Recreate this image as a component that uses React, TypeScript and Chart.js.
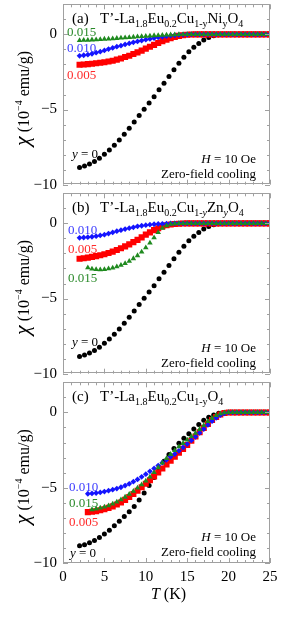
import React, { useEffect, useRef } from "react";
import { Chart, registerables } from "chart.js";

Chart.register(...registerables);

// ---------- data ----------
const X_MIN = 0;
const X_MAX = 25;
const Y_MIN = -10;
const Y_MAX = 2;
const X_TICKS = [0, 5, 10, 15, 20, 25];
const X_MINOR = [1, 2, 3, 4, 6, 7, 8, 9, 11, 12, 13, 14, 16, 17, 18, 19, 21, 22, 23, 24];
const Y_TICKS = [-10, -5, 0];
const Y_MINOR = [-9, -8, -7, -6, -4, -3, -2, -1, 1];

// temperatures (K)
const T_BLACK = [2.0, 2.6, 3.2, 3.8, 4.4, 5.0, 5.6, 6.2, 6.8, 7.4, 8.0, 8.6, 9.2, 9.8, 10.4, 11.0, 11.6, 12.2, 12.8, 13.4, 14.0, 14.6, 15.2, 15.8, 16.4, 17.0, 17.6, 18.2, 18.8, 19.4, 20.0, 20.6, 21.2, 21.8, 22.4, 23.0, 23.6, 24.2, 24.8];
const T_DOPED = [2, 2.5, 3, 3.5, 4, 4.5, 5, 5.5, 6, 6.5, 7, 7.5, 8, 8.5, 9, 9.5, 10, 10.5, 11, 11.5, 12, 12.5, 13, 13.5, 14, 14.5, 15, 15.5, 16, 16.5, 17, 17.5, 18, 18.5, 19, 19.5, 20, 20.5, 21, 21.5, 22, 22.5, 23, 23.5, 24, 24.5, 25];

// chi (10^-4 emu/g), y = 0
const Y0_AB = [-8.85, -8.75, -8.62, -8.45, -8.24, -7.98, -7.70, -7.38, -7.03, -6.65, -6.25, -5.83, -5.40, -4.98, -4.57, -4.15, -3.68, -3.25, -2.80, -2.36, -1.92, -1.52, -1.16, -0.86, -0.60, -0.38, -0.21, -0.09, -0.03, -0.01, 0, 0, 0, 0, 0, 0, 0, 0, 0];
const Y0_C = [-8.86, -8.78, -8.66, -8.50, -8.30, -8.07, -7.82, -7.52, -7.22, -6.92, -6.60, -6.25, -5.82, -5.35, -4.85, -4.32, -3.80, -3.25, -2.80, -2.40, -2.05, -1.72, -1.42, -1.10, -0.80, -0.52, -0.32, -0.17, -0.06, -0.01, 0, 0, 0, 0, 0, 0, 0, 0, 0];

// (a) Ni
const NI_005 = [-2.02, -2.00, -1.98, -1.95, -1.92, -1.89, -1.85, -1.80, -1.75, -1.68, -1.60, -1.51, -1.42, -1.31, -1.20, -1.08, -0.95, -0.82, -0.70, -0.57, -0.45, -0.35, -0.25, -0.17, -0.10, -0.06, -0.03, -0.01, 0, 0, 0, 0, 0, 0, 0, 0, 0, 0, 0, 0, 0, 0, 0, 0, 0, 0, 0];
const NI_010 = [-1.43, -1.39, -1.35, -1.29, -1.22, -1.15, -1.07, -0.98, -0.90, -0.82, -0.75, -0.67, -0.60, -0.53, -0.47, -0.41, -0.35, -0.30, -0.25, -0.20, -0.16, -0.12, -0.09, -0.06, -0.04, -0.02, -0.01, 0, 0, 0, 0, 0, 0, 0, 0, 0, 0, 0, 0, 0, 0, 0, 0, 0, 0, 0, 0];
const NI_015 = [-0.40, -0.39, -0.38, -0.36, -0.35, -0.33, -0.31, -0.30, -0.28, -0.26, -0.24, -0.22, -0.20, -0.18, -0.16, -0.14, -0.12, -0.10, -0.08, -0.07, -0.05, -0.04, -0.03, -0.02, -0.01, 0, 0, 0, 0, 0, 0, 0, 0, 0, 0, 0, 0, 0, 0, 0, 0, 0, 0, 0, 0, 0, 0];

// (b) Zn
const ZN_005 = [-2.35, -2.32, -2.28, -2.23, -2.18, -2.12, -2.05, -1.97, -1.88, -1.77, -1.65, -1.53, -1.40, -1.25, -1.10, -0.93, -0.75, -0.60, -0.45, -0.32, -0.20, -0.12, -0.07, -0.04, -0.02, -0.01, 0, 0, 0, 0, 0, 0, 0, 0, 0, 0, 0, 0, 0, 0, 0, 0, 0, 0, 0, 0, 0];
const ZN_010 = [-0.96, -0.94, -0.92, -0.89, -0.85, -0.80, -0.75, -0.68, -0.60, -0.52, -0.45, -0.38, -0.32, -0.26, -0.20, -0.16, -0.12, -0.09, -0.06, -0.04, -0.03, -0.02, -0.01, 0, 0, 0, 0, 0, 0, 0, 0, 0, 0, 0, 0, 0, 0, 0, 0, 0, 0, 0, 0, 0, 0, 0, 0];
const ZN_015 = [null, null, -2.95, -3.03, -3.07, -3.08, -3.06, -3.02, -2.96, -2.88, -2.78, -2.66, -2.51, -2.34, -2.14, -1.90, -1.62, -1.30, -0.95, -0.60, -0.32, -0.15, -0.06, -0.02, -0.01, 0, 0, 0, 0, 0, 0, 0, 0, 0, 0, 0, 0, 0, 0, 0, 0, 0, 0, 0, 0, 0, 0];

// (c) Cu deficient
const CU_005 = [null, null, -6.62, -6.60, -6.56, -6.50, -6.43, -6.34, -6.24, -6.12, -5.98, -5.81, -5.62, -5.42, -5.20, -4.97, -4.74, -4.50, -4.25, -3.98, -3.72, -3.46, -3.20, -2.94, -2.68, -2.42, -2.16, -1.88, -1.60, -1.32, -1.04, -0.76, -0.50, -0.30, -0.14, -0.04, 0, 0, 0, 0, 0, 0, 0, 0, 0, 0, 0];
const CU_010 = [null, null, -5.40, -5.38, -5.35, -5.31, -5.26, -5.20, -5.13, -5.06, -4.97, -4.86, -4.74, -4.60, -4.45, -4.28, -4.10, -3.91, -3.72, -3.53, -3.34, -3.15, -2.95, -2.76, -2.55, -2.33, -2.10, -1.86, -1.62, -1.36, -1.10, -0.83, -0.58, -0.36, -0.18, -0.06, 0, 0, 0, 0, 0, 0, 0, 0, 0, 0, 0];
const CU_015 = [null, null, null, -6.45, -6.40, -6.34, -6.27, -6.19, -6.08, -5.95, -5.80, -5.62, -5.43, -5.23, -5.02, -4.80, -4.55, -4.28, -3.98, -3.66, -3.35, -3.05, -2.78, -2.52, -2.28, -2.05, -1.83, -1.60, -1.37, -1.12, -0.86, -0.60, -0.38, -0.20, -0.08, -0.02, 0, 0, 0, 0, 0, 0, 0, 0, 0, 0, 0];

const LABEL_005 = "0.005";
const LABEL_010 = "0.010";
const LABEL_015 = "0.015";
const LABEL_Y0 = "y = 0";

// ---------- styles ----------
const FONT = '"Liberation Serif", "Times New Roman", serif';
const C_BLACK = "#000000";
const C_RED = "#ff0000";
const C_BLUE = "#1414ff";
const C_GREEN = "#1f8a1f";
const T_RED = "#ff2a2a";
const T_BLUE = "#3a3aff";
const T_GREEN = "#2a8a2a";
const FRAME = "#a0a0a0";

type Seg = { t: string; size: number; italic?: boolean; dy?: number; color?: string };

function fontOf(s: Seg) {
  return `${s.italic ? "italic " : ""}${s.size}px ${FONT}`;
}

function drawSegs(ctx: CanvasRenderingContext2D, x: number, y: number, segs: Seg[], align: "left" | "right" | "center") {
  let total = 0;
  const widths = segs.map((s) => {
    ctx.font = fontOf(s);
    const w = ctx.measureText(s.t).width;
    total += w;
    return w;
  });
  let cx = align === "left" ? x : align === "right" ? x - total : x - total / 2;
  ctx.textAlign = "left";
  ctx.textBaseline = "alphabetic";
  segs.forEach((s, i) => {
    ctx.font = fontOf(s);
    ctx.fillStyle = s.color || "#000";
    ctx.fillText(s.t, cx, y + (s.dy || 0));
    cx += widths[i];
  });
}

const sub = (t: string, italic = false): Seg => ({ t, size: 10, dy: 4, italic });
const nrm = (t: string): Seg => ({ t, size: 15 });

function formula(dopant: string, italicY: boolean): Seg[] {
  const segs: Seg[] = [nrm("T\u2019-La"), sub("1.8"), nrm("Eu"), sub("0.2"), nrm("Cu")];
  if (italicY) {
    segs.push(sub("1-"), sub("y", true));
  } else {
    segs.push(sub("1-y"));
  }
  if (dopant) {
    segs.push(nrm(dopant), sub("y", italicY));
  }
  segs.push(nrm("O"), sub("4"));
  return segs;
}

type Label = { text: string; color: string; dx: number; dy: number; italicFirst?: boolean };

type Panel = {
  tag: string;
  dopant: string;
  italicY: boolean;
  black: number[];
  red: (number | null)[];
  blue: (number | null)[];
  green: (number | null)[];
  labels: Label[];
  bottom: boolean;
  height: number;
};

const PANELS: Panel[] = [
  {
    tag: "(a)", dopant: "Ni", italicY: false, black: Y0_AB, red: NI_005, blue: NI_010, green: NI_015, bottom: false, height: 189,
    labels: [
      { text: LABEL_015, color: T_GREEN, dx: 4, dy: 32 },
      { text: LABEL_010, color: T_BLUE, dx: 4, dy: 48 },
      { text: LABEL_005, color: T_RED, dx: 4, dy: 75 },
      { text: LABEL_Y0, color: "#000", dx: 9, dy: 154, italicFirst: true },
    ],
  },
  {
    tag: "(b)", dopant: "Zn", italicY: true, black: Y0_AB, red: ZN_005, blue: ZN_010, green: ZN_015, bottom: false, height: 189,
    labels: [
      { text: LABEL_010, color: T_BLUE, dx: 5, dy: 41 },
      { text: LABEL_005, color: T_RED, dx: 5, dy: 60 },
      { text: LABEL_015, color: T_GREEN, dx: 5, dy: 89 },
      { text: LABEL_Y0, color: "#000", dx: 9, dy: 153, italicFirst: true },
    ],
  },
  {
    tag: "(c)", dopant: "", italicY: false, black: Y0_C, red: CU_005, blue: CU_010, green: CU_015, bottom: true, height: 241,
    labels: [
      { text: LABEL_010, color: T_BLUE, dx: 6, dy: 109 },
      { text: LABEL_015, color: T_GREEN, dx: 6, dy: 125 },
      { text: LABEL_005, color: T_RED, dx: 6, dy: 144 },
      { text: LABEL_Y0, color: "#000", dx: 7, dy: 175, italicFirst: true },
    ],
  },
];

function points(ts: number[], vs: (number | null)[]) {
  const out: { x: number; y: number }[] = [];
  ts.forEach((t, i) => {
    const v = vs[i];
    if (v !== null && v !== undefined) out.push({ x: t, y: v });
  });
  return out;
}

function dataset(data: { x: number; y: number }[], color: string, style: string, r: number) {
  return {
    data,
    showLine: false,
    pointStyle: style,
    pointRadius: r,
    pointHoverRadius: r,
    pointBackgroundColor: color,
    pointBorderColor: color,
    pointBorderWidth: 0,
  } as any;
}

function decorPlugin(p: Panel) {
  return {
    id: "decor",
    afterDraw(chart: any) {
      const ctx: CanvasRenderingContext2D = chart.ctx;
      const { left, right, top, bottom } = chart.chartArea;
      const xs = chart.scales.x;
      const ys = chart.scales.y;
      ctx.save();
      // frame
      ctx.strokeStyle = FRAME;
      ctx.lineWidth = 1;
      ctx.strokeRect(Math.round(left) + 0.5, Math.round(top) + 0.5, Math.round(right - left) - 1, Math.round(bottom - top) - 1);
      const tick = (x1: number, y1: number, x2: number, y2: number) => {
        ctx.beginPath();
        ctx.moveTo(x1, y1);
        ctx.lineTo(x2, y2);
        ctx.stroke();
      };
      const xTick = (v: number, len: number) => {
        const x = Math.round(xs.getPixelForValue(v)) + 0.5;
        tick(x, bottom, x, bottom - len);
        tick(x, top, x, top + len);
      };
      const yTick = (v: number, len: number) => {
        const y = Math.round(ys.getPixelForValue(v)) + 0.5;
        tick(left, y, left + len, y);
        tick(right, y, right - len, y);
      };
      X_TICKS.forEach((v) => xTick(v, 5));
      X_MINOR.forEach((v) => xTick(v, 3));
      Y_TICKS.forEach((v) => yTick(v, 5));
      Y_MINOR.forEach((v) => yTick(v, 3));

      // panel title
      drawSegs(ctx, left + 9, top + 19, [nrm(p.tag)], "left");
      drawSegs(ctx, left + 37, top + 19, formula(p.dopant, p.italicY), "left");

      // series labels
      p.labels.forEach((l) => {
        if (l.italicFirst) {
          drawSegs(ctx, left + l.dx, top + l.dy, [
            { t: l.text.slice(0, 1), size: 13, italic: true, color: l.color },
            { t: l.text.slice(1), size: 13, color: l.color },
          ], "left");
        } else {
          drawSegs(ctx, left + l.dx, top + l.dy, [{ t: l.text, size: 13, color: l.color }], "left");
        }
      });

      // conditions
      drawSegs(ctx, right - 14, bottom - 22, [
        { t: "H", size: 13, italic: true },
        { t: " = 10 Oe", size: 13 },
      ], "right");
      drawSegs(ctx, right - 14, bottom - 7, [{ t: "Zero-field cooling", size: 13 }], "right");

      // y title (rotated)
      ctx.save();
      ctx.translate(29, (top + bottom) / 2 + 4);
      ctx.rotate(-Math.PI / 2);
      drawSegs(ctx, 0, 0, [
        { t: "\u03c7", size: 22, italic: true },
        { t: " (10", size: 16 },
        { t: "\u22124", size: 10, dy: -7 },
        { t: " emu/g)", size: 16 },
      ], "center");
      ctx.restore();

      // x title
      if (p.bottom) {
        drawSegs(ctx, (left + right) / 2 + 2, bottom + 36, [
          { t: "T", size: 16, italic: true },
          { t: " (K)", size: 16 },
        ], "center");
      }
      ctx.restore();
    },
  };
}

function makeChart(canvas: HTMLCanvasElement, p: Panel) {
  return new Chart(canvas, {
    type: "scatter",
    data: {
      datasets: [
        dataset(points(T_DOPED, p.green), C_GREEN, "triangle", 3.2),
        dataset(points(T_DOPED, p.blue), C_BLUE, "rectRot", 2.9),
        dataset(points(T_DOPED, p.red), C_RED, "rect", 4.3),
        dataset(points(T_BLACK, p.black), C_BLACK, "circle", 2.5),
      ],
    },
    options: {
      responsive: false,
      animation: false,
      events: [],
      layout: { padding: { top: 3, right: 17, bottom: p.bottom ? 0 : 3, left: 0 } },
      plugins: {
        legend: { display: false },
        tooltip: { enabled: false },
        title: { display: false },
      },
      scales: {
        x: {
          type: "linear",
          min: X_MIN,
          max: X_MAX,
          display: p.bottom,
          grid: { display: false, drawTicks: false },
          border: { display: false },
          ticks: {
            color: "#000",
            font: { family: FONT, size: 15 },
            padding: 5,
            maxRotation: 0,
            autoSkip: false,
            callback: (v: any) => String(v),
          },
          afterBuildTicks: (s: any) => {
            s.ticks = X_TICKS.map((v) => ({ value: v }));
          },
          afterFit: (s: any) => {
            s.height = p.bottom ? 56 : 0;
            s.paddingLeft = 0;
            s.paddingRight = 0;
          },
        },
        y: {
          type: "linear",
          min: Y_MIN,
          max: Y_MAX,
          grid: { display: false, drawTicks: false },
          border: { display: false },
          ticks: {
            color: "#000",
            font: { family: FONT, size: 15 },
            padding: 6,
            callback: (v: any) => (v < 0 ? "\u2212" + Math.abs(v) : String(v)),
          },
          afterBuildTicks: (s: any) => {
            s.ticks = Y_TICKS.map((v) => ({ value: v }));
          },
          afterFit: (s: any) => {
            s.width = 63;
            s.paddingTop = 0;
            s.paddingBottom = 0;
          },
        },
      },
    } as any,
    plugins: [decorPlugin(p)],
  });
}

export default function App() {
  const refs = useRef<(HTMLCanvasElement | null)[]>([]);
  useEffect(() => {
    const charts = PANELS.map((p, i) => makeChart(refs.current[i] as HTMLCanvasElement, p));
    return () => charts.forEach((c) => c.destroy());
  }, []);
  const tops = [0, 189, 378];
  return (
    <div style={{ position: "absolute", left: 0, top: 0, width: 287, height: 619, background: "#fff", overflow: "hidden" }}>
      {PANELS.map((p, i) => (
        <canvas
          key={p.tag}
          ref={(el) => {
            refs.current[i] = el;
          }}
          width={287}
          height={p.height}
          style={{ position: "absolute", left: 0, top: tops[i], width: 287, height: p.height }}
        />
      ))}
    </div>
  );
}
